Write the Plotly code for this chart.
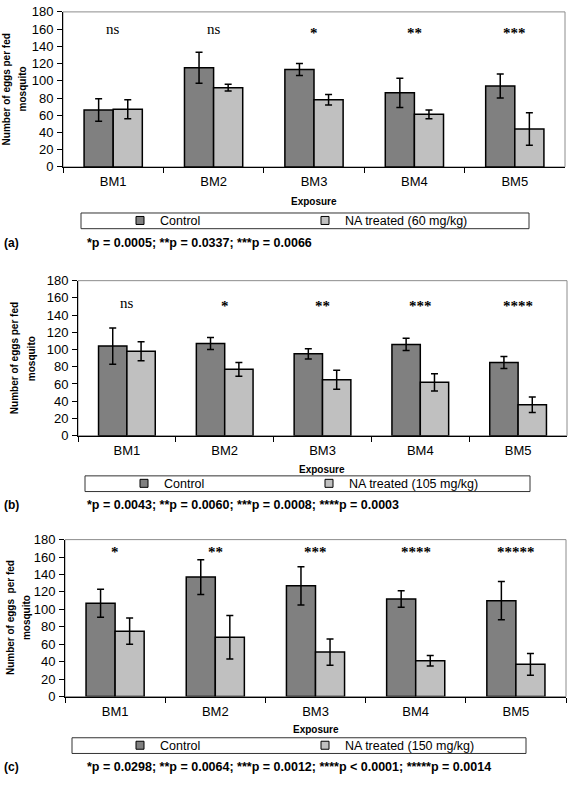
import plotly.graph_objects as go

# ---------------- data ----------------
categories = ["BM1", "BM2", "BM3", "BM4", "BM5"]

control_a = [66, 115, 113, 86, 94]
control_a_err = [13, 18, 7, 17, 14]
treated_a = [67, 92, 78, 61, 44]
treated_a_err = [11, 4, 6, 5, 19]
sig_a = ["ns", "ns", "*", "**", "***"]

control_b = [104, 107, 95, 106, 85]
control_b_err = [21, 7, 6, 7, 7]
treated_b = [98, 77, 65, 62, 36]
treated_b_err = [11, 8, 11, 10, 9]
sig_b = ["ns", "*", "**", "***", "****"]

control_c = [107, 137, 127, 112, 110]
control_c_err = [16, 20, 22, 9.5, 22]
treated_c = [75, 68, 51, 41, 37]
treated_c_err = [15, 25, 15, 6, 12.5]
sig_c = ["*", "**", "***", "****", "*****"]

control_name = "Control"
treated_names = ["NA treated (60 mg/kg)", "NA treated (105 mg/kg)", "NA treated (150 mg/kg)"]
pvalue_texts = [
    "*p = 0.0005; **p = 0.0337; ***p = 0.0066",
    "*p = 0.0043; **p = 0.0060; ***p = 0.0008; ****p = 0.0003",
    "*p = 0.0298; **p = 0.0064; ***p = 0.0012; ****p < 0.0001; *****p = 0.0014",
]
panel_labels = ["(a)", "(b)", "(c)"]
ytitle_line1 = ["Number of eggs per fed", "Number of eggs per fed", "Number of eggs\u00a0 per fed"]
ytitle_line2 = "mosquito"
xtitle = "Exposure"
y_ticks = [0, 20, 40, 60, 80, 100, 120, 140, 160, 180]
sig_y = [156, 150, 166]

CONTROL_COLOR = "#808080"
TREATED_COLOR = "#C0C0C0"

# ---------------- layout geometry (pixels) ----------------
W, H = 568, 785
SANS = "Liberation Sans, Arial, sans-serif"
SERIF = "Liberation Serif, Times New Roman, serif"


def fx(px):
    return px / W


def fy(py):
    return 1 - py / H


panels = [
    dict(x0=63, x1=565, y0=5, y1=163, expo=198, box=(81, 529, 210, 226), leg_x=120, ptext=241,
         yt1=6, yt2=22),
    dict(x0=78, x1=567, y0=279, y1=437, expo=472, box=(85, 530, 478, 494), leg_x=124, ptext=508,
         yt1=14, yt2=31),
    dict(x0=65, x1=566, y0=543, y1=703, expo=737, box=(72, 526, 745, 761), leg_x=120, ptext=775,
         yt1=10, yt2=26),
]

controls = [control_a, control_b, control_c]
controls_err = [control_a_err, control_b_err, control_c_err]
treateds = [treated_a, treated_b, treated_c]
treateds_err = [treated_a_err, treated_b_err, treated_c_err]
sigs = [sig_a, sig_b, sig_c]

fig = go.Figure()
annotations = []
shapes = []
layout_extra = {}

for i, p in enumerate(panels):
    n = "" if i == 0 else str(i + 1)
    xref, yref = "x" + n, "y" + n
    legname = "legend" + n
    fig.add_trace(go.Bar(
        x=categories, y=controls[i], name=control_name, showlegend=False,
        xaxis=xref, yaxis=yref,
        marker=dict(color=CONTROL_COLOR, line=dict(color="black", width=1.5)),
        error_y=dict(type="data", array=controls_err[i], color="black", thickness=1.5, width=3.5),
    ))
    fig.add_trace(go.Bar(
        x=categories, y=treateds[i], name=treated_names[i], showlegend=False,
        xaxis=xref, yaxis=yref,
        marker=dict(color=TREATED_COLOR, line=dict(color="black", width=1.5)),
        error_y=dict(type="data", array=treateds_err[i], color="black", thickness=1.5, width=3.5),
    ))
    # legend entries with small square swatches
    for nm, col in [(control_name, CONTROL_COLOR), (treated_names[i], TREATED_COLOR)]:
        fig.add_trace(go.Scatter(
            x=[None], y=[None], mode="markers", name=nm, legend=legname,
            xaxis=xref, yaxis=yref, hoverinfo="skip",
            marker=dict(symbol="square", size=8, color=col, line=dict(color="black", width=1)),
        ))

    layout_extra["xaxis" + n] = dict(
        domain=[fx(p["x0"]), fx(p["x1"])], anchor=yref, type="category",
        categoryorder="array", categoryarray=categories, range=[-0.5, 4.5],
        showline=True, linecolor="black", linewidth=1,
        ticks="outside", tickson="boundaries", ticklen=5, tickcolor="black", tickwidth=1,
        tickfont=dict(family=SANS, size=13, color="black"), ticklabelstandoff=3,
        showgrid=False, zeroline=False, fixedrange=True,
    )
    layout_extra["yaxis" + n] = dict(
        domain=[fy(p["y1"]), fy(p["y0"])], anchor=xref, range=[0, 180],
        tickvals=y_ticks, showline=True, linecolor="black", linewidth=1,
        ticks="outside", ticklen=5, tickcolor="black", tickwidth=1,
        tickfont=dict(family=SANS, size=13, color="black"), ticklabelstandoff=1,
        showgrid=False, zeroline=False, fixedrange=True,
    )
    layout_extra[legname] = dict(
        orientation="h", x=fx(p["leg_x"]), xanchor="left",
        y=fy((p["box"][2] + p["box"][3]) / 2), yanchor="middle",
        bgcolor="rgba(0,0,0,0)", borderwidth=0,
        font=dict(family=SANS, size=12.5, color="black"),
        entrywidth=140, traceorder="normal",
    )

    # gray frame around plot area
    shapes.append(dict(type="rect", xref=xref + " domain", yref=yref + " domain",
                       x0=0, x1=1, y0=0, y1=1, line=dict(color="#8c8c8c", width=1), layer="below"))
    # legend box
    bx0, bx1, by0, by1 = p["box"]
    shapes.append(dict(type="rect", xref="paper", yref="paper",
                       x0=fx(bx0), x1=fx(bx1), y0=fy(by1), y1=fy(by0),
                       line=dict(color="#333333", width=1), fillcolor="white", layer="below"))

    # significance labels
    for c, s in zip(categories, sigs[i]):
        is_ns = s == "ns"
        annotations.append(dict(
            x=c, y=sig_y[i] + (4 if is_ns else 0), xref=xref, yref=yref,
            text=s if is_ns else "<b>" + s + "</b>", showarrow=False,
            font=dict(family=SERIF, size=15, color="#000000"),
        ))

    # x-axis title
    annotations.append(dict(
        x=(fx(p["x0"]) + fx(p["x1"])) / 2, y=fy(p["expo"]), xref="paper", yref="paper",
        text="<b>" + xtitle + "</b>", showarrow=False, yanchor="middle",
        font=dict(family=SANS, size=10, color="black"),
    ))
    # y-axis title (two lines)
    ymid = fy((p["y0"] + p["y1"]) / 2)
    annotations.append(dict(
        x=fx(p["yt1"]), y=ymid, xref="paper", yref="paper", textangle=-90,
        text="<b>" + ytitle_line1[i] + "</b>", showarrow=False, xanchor="center", yanchor="middle",
        font=dict(family=SANS, size=10, color="black"),
    ))
    annotations.append(dict(
        x=fx(p["yt2"]), y=ymid, xref="paper", yref="paper", textangle=-90,
        text="<b>" + ytitle_line2 + "</b>", showarrow=False, xanchor="center", yanchor="middle",
        font=dict(family=SANS, size=10, color="black"),
    ))
    # panel label and p-values
    annotations.append(dict(
        x=fx(2), y=fy(p["ptext"]), xref="paper", yref="paper", xanchor="left", yanchor="middle",
        text="<b>" + panel_labels[i] + "</b>", showarrow=False,
        font=dict(family=SANS, size=12, color="black"),
    ))
    annotations.append(dict(
        x=fx(85), y=fy(p["ptext"]), xref="paper", yref="paper", xanchor="left", yanchor="middle",
        text="<b>" + pvalue_texts[i] + "</b>", showarrow=False,
        font=dict(family=SANS, size=12.5, color="black"),
    ))

fig.update_layout(
    width=W, height=H, margin=dict(l=0, r=0, t=0, b=0),
    paper_bgcolor="white", plot_bgcolor="white",
    barmode="group", bargap=0.42, bargroupgap=0,
    showlegend=True, annotations=annotations, shapes=shapes,
    **layout_extra,
)

fig.write_html("out.html", config={"displayModeBar": False},
               post_script="document.body.style.margin='0px';")
